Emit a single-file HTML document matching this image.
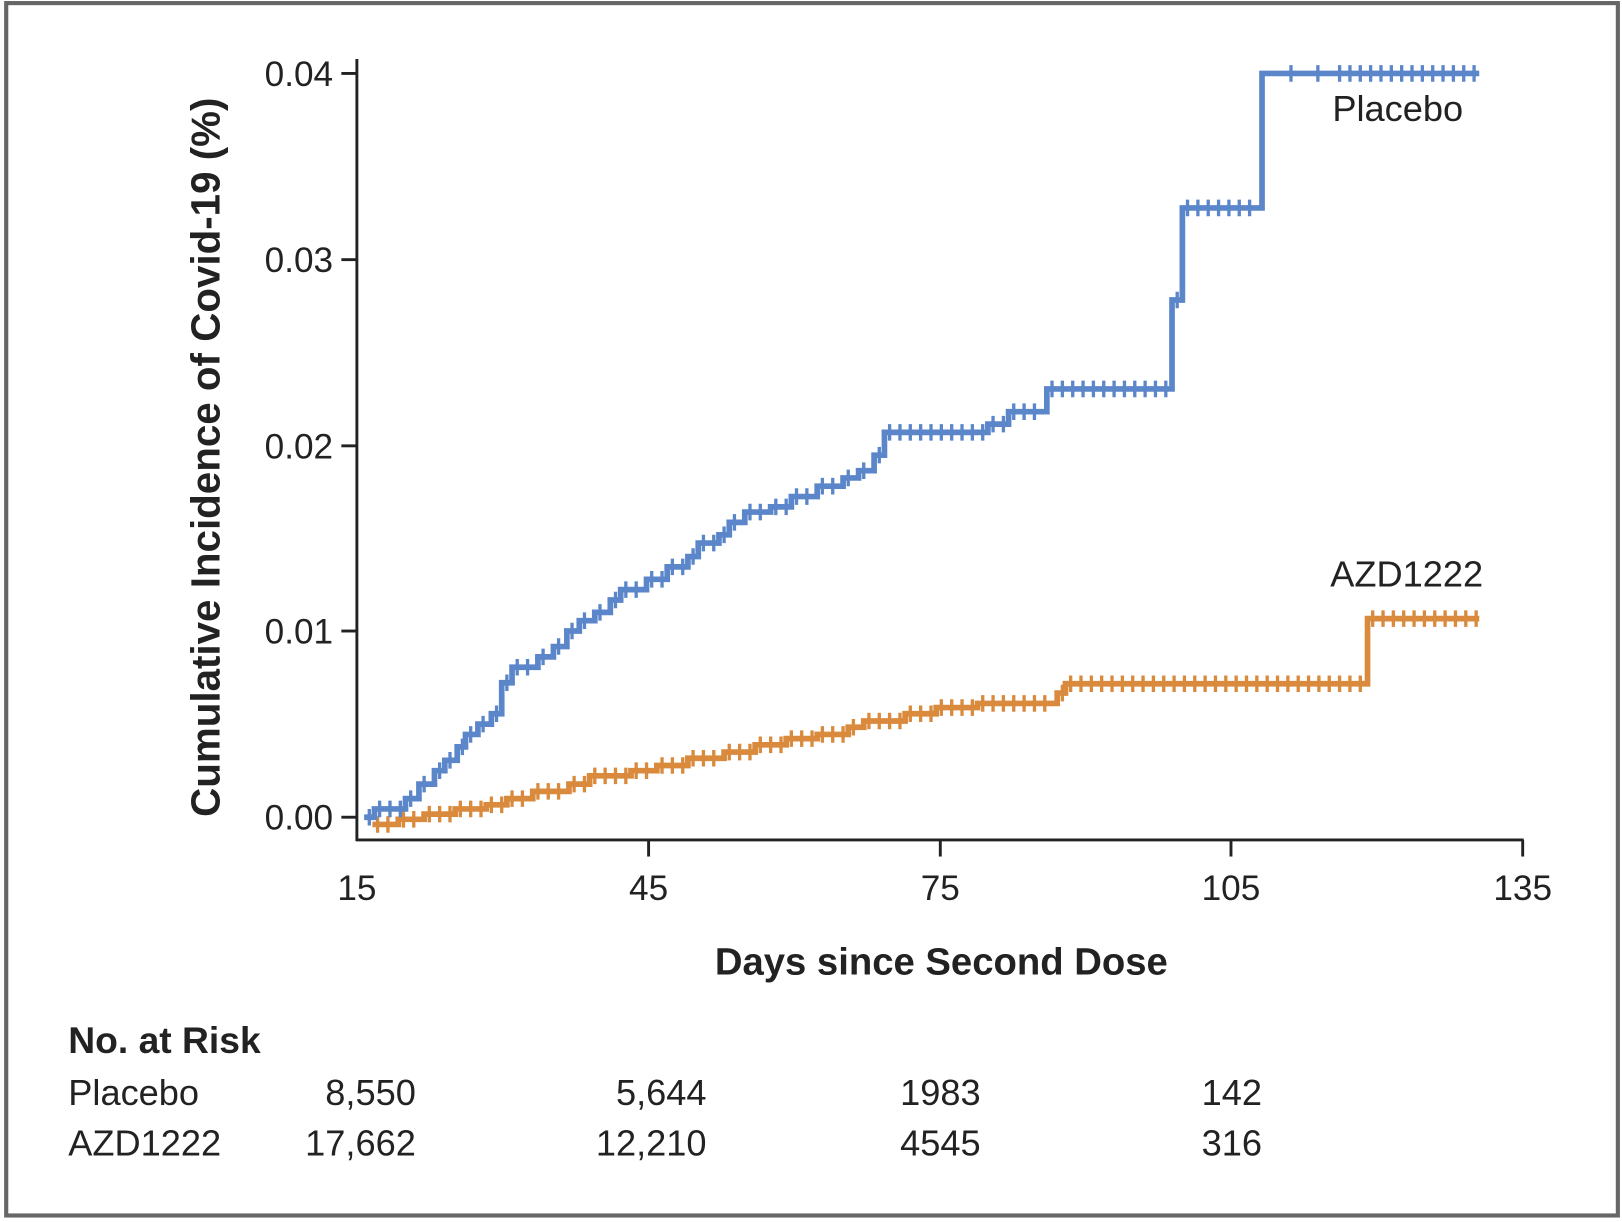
<!DOCTYPE html>
<html><head><meta charset="utf-8"><style>
html,body{margin:0;padding:0;background:#fff}
svg{display:block}
text{font-family:"Liberation Sans",sans-serif;fill:#222}
</style></head><body>
<svg id="s" width="1622" height="1222" viewBox="0 0 1568 1181.3" preserveAspectRatio="none" xmlns="http://www.w3.org/2000/svg">
<rect x="0" y="0" width="1568" height="1181.3" fill="#fff"/>
<rect x="6" y="3" width="1558" height="1172" fill="none" stroke="#666" stroke-width="4"/>
<g stroke="#222" stroke-width="2.8" fill="none">
<line x1="345" y1="57" x2="345" y2="813"/>
<line x1="344" y1="812" x2="1473" y2="812"/>
<line x1="330" y1="71" x2="345" y2="71"/>
<line x1="330" y1="251" x2="345" y2="251"/>
<line x1="330" y1="431" x2="345" y2="431"/>
<line x1="330" y1="610" x2="345" y2="610"/>
<line x1="330" y1="790" x2="345" y2="790"/>
<line x1="627" y1="812" x2="627" y2="828"/>
<line x1="909" y1="812" x2="909" y2="828"/>
<line x1="1190" y1="812" x2="1190" y2="828"/>
<line x1="1472" y1="812" x2="1472" y2="828"/>
</g>
<g font-size="34" text-anchor="end">
<text x="322" y="83">0.04</text><text x="322" y="263">0.03</text><text x="322" y="443">0.02</text><text x="322" y="622">0.01</text><text x="322" y="802">0.00</text>
</g>
<g font-size="34" text-anchor="middle">
<text x="345" y="870">15</text><text x="627" y="870">45</text><text x="909" y="870">75</text><text x="1190" y="870">105</text><text x="1472" y="870">135</text>
</g>
<text x="910" y="942" font-size="37" font-weight="bold" text-anchor="middle">Days since Second Dose</text>
<text transform="translate(212,442) rotate(-90)" font-size="39" font-weight="bold" text-anchor="middle">Cumulative Incidence of Covid-19 (%)</text>
<text x="1288" y="117" font-size="35">Placebo</text>
<text x="1286" y="567" font-size="35">AZD1222</text>
<g id="curves"></g>
<text x="66" y="1018" font-size="36" font-weight="bold">No. at Risk</text>
<g font-size="35">
<text x="66" y="1068">Placebo</text>
<text x="66" y="1117">AZD1222</text>
</g>
<g font-size="35" text-anchor="end">
<text x="402" y="1068">8,550</text><text x="683" y="1068">5,644</text><text x="948" y="1068">1983</text><text x="1220" y="1068">142</text>
<text x="402" y="1117">17,662</text><text x="683" y="1117">12,210</text><text x="948" y="1117">4545</text><text x="1220" y="1117">316</text>
</g>
</svg>
<script>
var P=[[352,790],[362,782],[392,772],[405,758],[420,745],[430,735],[442,722],[450,710],[462,700],[475,690],[485,660],[495,645],[520,635],[535,625],[548,610],[560,600],[575,592],[590,580],[600,570],[625,560],[645,548],[665,538],[675,525],[695,517],[705,505],[720,495],[745,490],[765,480],[790,470],[815,462],[830,455],[845,440],[855,418],[955,410],[975,398],[1012,376],[1133,290],[1143,201],[1220,71],[1430,71]];
var A=[[360,797],[385,792],[410,787],[440,782],[470,778],[490,772],[515,765],[550,758],[570,750],[610,745],[635,740],[665,733],[700,727],[730,720],[760,714],[790,710],[820,703],[835,697],[875,690],[905,684],[945,680],[1022,670],[1030,661],[1322,598],[1430,598]];
function drawKM(pts,col,gap){
  var segs=[];for(var i=0;i<pts.length-1;i++)segs.push([pts[i][0],pts[i+1][0],pts[i][1]]);
  var last=pts[pts.length-1];segs[segs.length-1]=[pts[pts.length-2][0],last[0],last[1]];
  var g=document.getElementById('curves'),ns='http://www.w3.org/2000/svg';
  var d='M'+pts[0][0]+' '+pts[0][1];for(var i=1;i<pts.length;i++)d+=' H'+pts[i][0]+' V'+pts[i][1];
  var ticks='';
  segs.forEach(function(s){for(var x=s[0]+5;x<s[1]-2;x+=gap){if(s[2]==71&&x<1290)continue;ticks+='M'+x+' '+(s[2]-8)+' V'+(s[2]+8)+' ';}});
  if(pts===P)ticks+='M1248 63 V79 M1274 63 V79 ';
  var p=document.createElementNS(ns,'path');p.setAttribute('d',d);p.setAttribute('fill','none');p.setAttribute('stroke',col);p.setAttribute('stroke-width','5.5');g.appendChild(p);
  var t=document.createElementNS(ns,'path');t.setAttribute('d',ticks);t.setAttribute('stroke',col);t.setAttribute('stroke-width','3.2');g.appendChild(t);
}
drawKM(A,'#d98a3d',10);
drawKM(P,'#5b86c9',10);
</script>
</body></html>
